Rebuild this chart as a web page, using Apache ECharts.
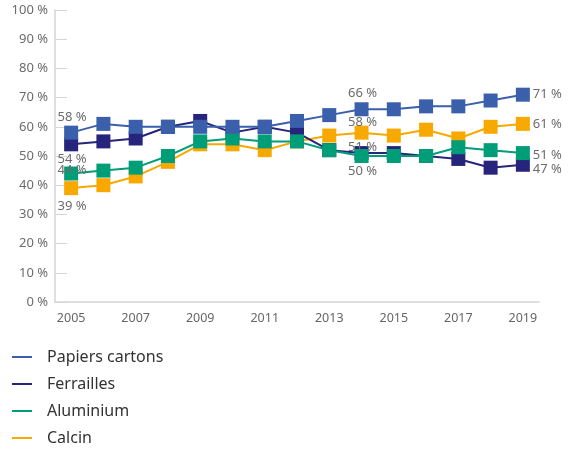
<!DOCTYPE html>
<html>
<head>
<meta charset="utf-8">
<script src="https://cdn.jsdelivr.net/npm/echarts@6/dist/echarts.min.js"></script>
<style>
  html, body { margin: 0; padding: 0; background: #fff; }
  #main { width: 571px; height: 450px; }
</style>
</head>
<body>
<div id="main"></div>
<script>
// années
var years = ['2005', '2006', '2007', '2008', '2009', '2010', '2011', '2012',
  '2013', '2014', '2015', '2016', '2017', '2018', '2019'];
// taux (%)
var papiersCartons = [58, 61, 60, 60, 60, 60, 60, 62, 64, 66, 66, 67, 67, 69, 71];
var ferrailles = [54, 55, 56, 60, 62, 58, 60, 58, 52, 51, 51, 50, 49, 46, 47];
var aluminium = [44, 45, 46, 50, 55, 56, 55, 55, 52, 50, 50, 50, 53, 52, 51];
var calcin = [39, 40, 43, 48, 54, 54, 52, 55, 57, 58, 57, 59, 56, 60, 61];
var yTicks = [0, 10, 20, 30, 40, 50, 60, 70, 80, 90, 100];

var FONT = 'Noto Sans';
var chart = echarts.init(document.getElementById('main'));

// étiquettes sur 2005, 2014 et 2019 (décalage vertical en px)
function withLabels(values, dy) {
  var last = values.length - 1;
  return values.map(function (v, i) {
    if (i === 0 || i === 9) {
      return { value: v, label: { show: true, position: 'inside', offset: [1, i === 0 ? dy[0] : dy[1]] } };
    }
    if (i === last) {
      return { value: v, label: { show: true, position: 'right', distance: 3, offset: [0, dy[2]] } };
    }
    return v;
  });
}

function line(name, color, values, z, dy) {
  return {
    name: name,
    type: 'line',
    z: z,
    data: withLabels(values, dy),
    symbol: 'rect',
    symbolSize: 14,
    showAllSymbol: true,
    lineStyle: { width: 2, color: color },
    itemStyle: { color: color },
    label: {
      show: false,
      formatter: '{c} %',
      color: '#6b6b6b',
      fontFamily: FONT,
      fontSize: 13
    },
    emphasis: { disabled: true }
  };
}

var option = {
  animation: false,
  textStyle: { fontFamily: FONT },
  grid: { left: 55, right: 32, top: 10, bottom: 148 },
  legend: {
    orient: 'vertical',
    left: 12,
    top: 349,
    height: 100,
    padding: 0,
    itemGap: 11,
    itemWidth: 20,
    itemHeight: 16,
    icon: 'path://M0,7 L20,7 L20,9 L0,9 Z',
    textStyle: { fontFamily: FONT, fontSize: 16, color: '#333', padding: [0, 0, 0, 10] },
    data: ['Papiers cartons', 'Ferrailles', 'Aluminium', 'Calcin']
  },
  xAxis: {
    type: 'category',
    data: years,
    boundaryGap: true,
    axisLine: { lineStyle: { color: '#d5d5d5', width: 1.5 } },
    axisTick: { inside: true, length: 5, lineStyle: { color: '#d5d5d5' } },
    axisLabel: { interval: 1, color: '#666', fontSize: 12.5, margin: 10, fontFamily: FONT }
  },
  yAxis: {
    type: 'value',
    min: yTicks[0],
    max: yTicks[yTicks.length - 1],
    interval: 10,
    axisLine: { show: true, lineStyle: { color: '#d5d5d5', width: 1.5 } },
    axisTick: { show: true, inside: true, length: 12, lineStyle: { color: '#d5d5d5' } },
    splitLine: { show: false },
    axisLabel: { formatter: '{value} %', color: '#6b6b6b', fontSize: 13, margin: 7, fontFamily: FONT }
  },
  series: [
    line('Papiers cartons', '#3a5fab', papiersCartons, 5, [-15.5, -16, 0]),
    line('Ferrailles', '#27247b', ferrailles, 3, [15, -6, 4.5]),
    line('Aluminium', '#009e78', aluminium, 4, [-3, 15.5, 2]),
    line('Calcin', '#f7a900', calcin, 2, [18, -10, 0])
  ]
};
chart.setOption(option);
</script>
</body>
</html>
